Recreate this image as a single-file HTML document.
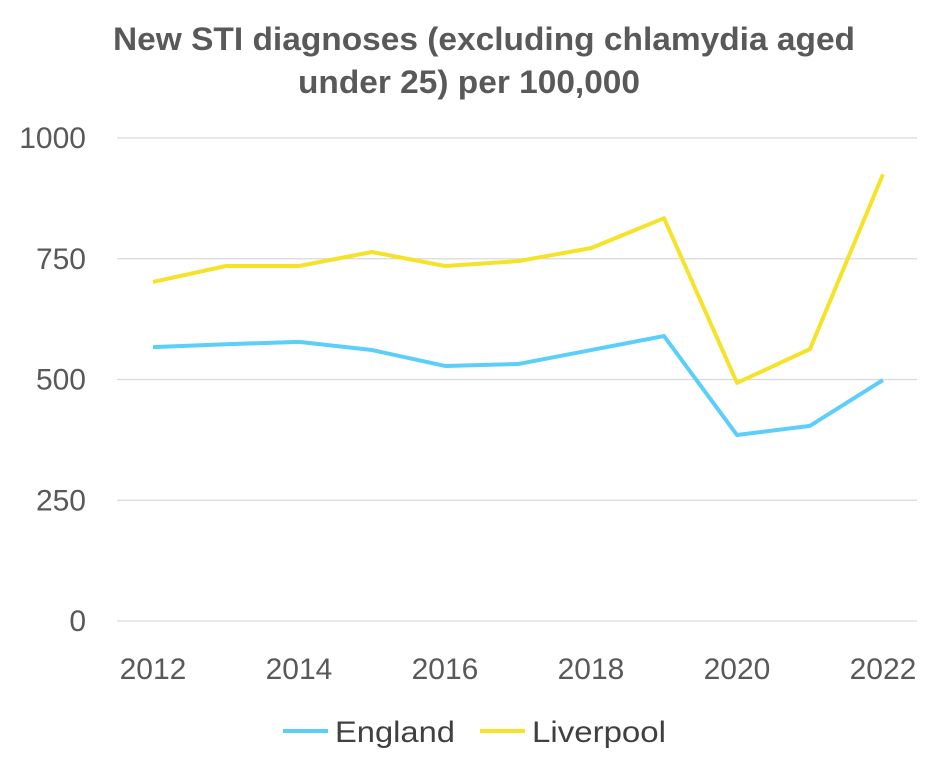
<!DOCTYPE html>
<html><head><meta charset="utf-8"><style>
body{margin:0;background:#fff;font-family:"Liberation Sans",Arial,sans-serif;}
</style></head><body>
<svg id="chart" width="940" height="770" xmlns="http://www.w3.org/2000/svg">
<text x="113" y="50" textLength="742" lengthAdjust="spacingAndGlyphs" font-size="32" font-weight="bold" fill="#595959">New STI diagnoses (excluding chlamydia aged</text>
<text x="298" y="93" textLength="342" lengthAdjust="spacingAndGlyphs" font-size="32" font-weight="bold" fill="#595959">under 25) per 100,000</text>
<g id="grid"></g><g id="yticks"></g><g id="xticks"></g><g id="series"></g>
<g>
<line x1="283" y1="731" x2="328" y2="731" stroke="#5bcefa" stroke-width="4"/>
<text x="335" y="742" font-size="30" textLength="120" lengthAdjust="spacingAndGlyphs" fill="#404040">England</text>
<line x1="480" y1="731" x2="525" y2="731" stroke="#f5e32a" stroke-width="4"/>
<text x="532" y="742" font-size="30" textLength="134" lengthAdjust="spacingAndGlyphs" fill="#404040">Liverpool</text>
</g>
</svg>
<script>
const years=[2012,2013,2014,2015,2016,2017,2018,2019,2020,2021,2022];
const england=[567,573,578,561,528,532,561,590,385,404,499];
const liverpool=[702,735,735,764,735,745,772,834,493,563,925];
const yTicks=[0,250,500,750,1000];
const xTicks=[2012,2014,2016,2018,2020,2022];
const NS="http://www.w3.org/2000/svg";
const x=v=>153+(v-2012)*73;
const y=v=>621-v*0.483;
function mk(tag,attrs,parent){const e=document.createElementNS(NS,tag);for(const k in attrs)e.setAttribute(k,attrs[k]);document.getElementById(parent).appendChild(e);return e;}
yTicks.forEach(t=>{
 const g=mk('line',{x1:117,x2:917,y1:y(t),y2:y(t),stroke:'#d9d9d9','stroke-width':1.3},'grid');
 
 
 const l=mk('text',{x:86,y:y(t)+10,'text-anchor':'end','font-size':30,fill:'#595959'},'yticks');
 l.textContent=t;
 
 
});
xTicks.forEach(t=>{
 const l=mk('text',{x:x(t),y:679,'text-anchor':'middle','font-size':30,fill:'#595959'},'xticks');
 l.textContent=t;
 
 
});
[[england,'#5bcefa','england-line'],[liverpool,'#f5e32a','liverpool-line']].forEach(([d,c,n])=>{
 const p=mk('polyline',{points:d.map((v,i)=>x(years[i])+','+y(v)).join(' '),fill:'none',stroke:c,'stroke-width':4,'stroke-linejoin':'round'},'series');
 
 
});
</script>
</body></html>
